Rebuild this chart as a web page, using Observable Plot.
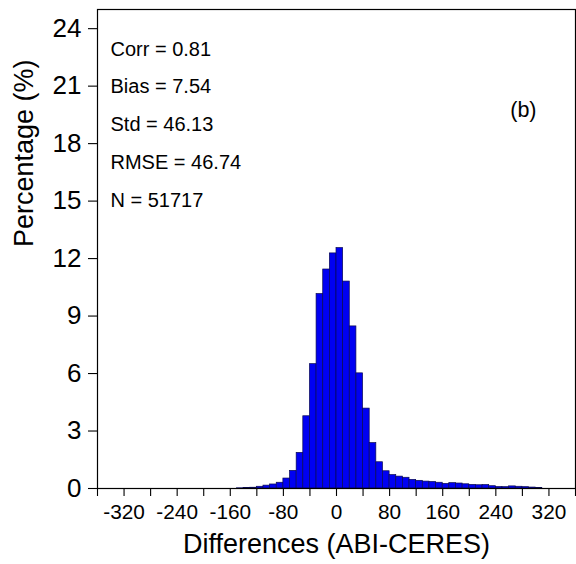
<!DOCTYPE html>
<html>
<head>
<meta charset="utf-8">
<script src="https://cdn.jsdelivr.net/npm/d3@7"></script>
<script src="https://cdn.jsdelivr.net/npm/@observablehq/plot@0.6"></script>
<style>
  html, body { margin: 0; padding: 0; background: #fff; }
  #chart svg { display: block; }
</style>
</head>
<body>
<div id="chart"></div>
<script>
// Bin lower edges (ABI-CERES differences), bin width 10
const binStart = [-150,-140,-130,-120,-110,-100,-90,-80,-70,-60,-50,-40,-30,-20,-10,
  0,10,20,30,40,50,60,70,80,90,100,110,120,130,140,150,160,170,180,190,200,
  210,220,230,240,250,260,270,280,290,300];
const binWidth = 10;
// Percentage in each bin
const percentage = [0.01,0.02,0.04,0.09,0.15,0.21,0.30,0.52,0.92,1.86,3.77,6.49,10.15,11.43,12.27,
  12.55,10.80,8.46,6.01,4.17,2.37,1.37,0.90,0.70,0.62,0.56,0.45,0.40,0.36,0.34,0.30,0.24,0.28,0.26,0.22,0.19,
  0.17,0.18,0.12,0.08,0.07,0.11,0.09,0.07,0.05,0.02];

const xLabelTicks = [-320,-240,-160,-80,0,80,160,240,320];
const xMinorTicks = [-360,-280,-200,-120,-40,40,120,200,280,360];
const yTicks = [0,3,6,9,12,15,18,21,24];
const statsLines = ["Corr = 0.81","Bias = 7.54","Std = 46.13","RMSE = 46.74","N = 51717"];
const panelLabel = "(b)";
const xTitle = "Differences (ABI-CERES)";
const yTitle = "Percentage (%)";

const bins = binStart.map((s, i) => ({x1: s, x2: s + binWidth, y: percentage[i]}));

const chart = Plot.plot({
  width: 576,
  height: 564,
  marginLeft: 97,
  marginRight: 1,
  marginTop: 9,
  marginBottom: 76,
  style: {fontFamily: "'Liberation Sans', Arial, Helvetica, sans-serif", background: "#fff", color: "#000"},
  x: {domain: [-360, 360]},
  y: {domain: [0, 25]},
  marks: [
    Plot.rectY(bins, {x1: "x1", x2: "x2", y: "y", fill: "#0000f2", stroke: "#0a0a50", strokeWidth: 0.7}),
    Plot.frame({stroke: "#000", strokeWidth: 1.2}),
    Plot.axisY({ticks: yTicks, tickSize: 9, tickPadding: 7, fontSize: 26, label: null, strokeWidth: 1.1}),
    Plot.axisX({ticks: xLabelTicks, tickSize: 8, tickPadding: 8, fontSize: 20.8, label: null, tickFormat: d => String(d), strokeWidth: 1.1}),
    Plot.axisX({ticks: xMinorTicks, tickSize: 8, text: null, label: null, strokeWidth: 1.1}),
    Plot.text([statsLines.join("\n")], {frameAnchor: "top-left", dx: 13, dy: 19.5, textAnchor: "start", lineAnchor: "top", lineHeight: 1.885, fontSize: 20, fill: "#000"}),
    Plot.text([panelLabel], {frameAnchor: "top-right", dx: -39, dy: 92, textAnchor: "end", lineAnchor: "top", fontSize: 21.5, fill: "#000"}),
    Plot.text([xTitle], {frameAnchor: "bottom", dy: 64.5, lineAnchor: "bottom", fontSize: 27, fill: "#000"}),
    Plot.text([yTitle], {frameAnchor: "left", dx: -64.5, dy: -2, rotate: -90, lineAnchor: "bottom", fontSize: 27, fill: "#000"})
  ]
});
document.getElementById("chart").appendChild(chart);
</script>
</body>
</html>
